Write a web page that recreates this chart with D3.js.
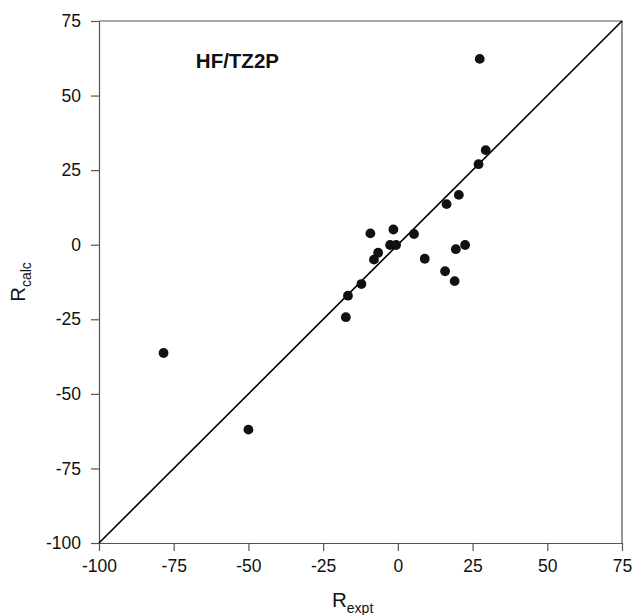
<!DOCTYPE html>
<html lang="en">
  <head>
    <meta charset="utf-8">
    <title>HF/TZ2P R calc vs expt</title>
    <script src="https://cdn.jsdelivr.net/npm/d3@7"></script>
    <style>
      body { margin: 0; background: white; }
      text { font-family: "Liberation Sans", Arial, sans-serif; fill: #111; }
    </style>
  </head>
  <body>
    <script>

        var w = 634;
        var h = 615;
        var margin = { top: 21, right: 12, bottom: 72, left: 99 };

        var rExpt = [27.4, 29.4, 27.0, 20.4, 16.3, -9.2, -1.5, 5.4, -2.6, -0.6, -6.6,
                     -8.0, 9.0, 19.4, 22.5, 15.8, 19.0, -12.2, -16.7, -17.4, -50.0, -78.4];
        var rCalc = [62.3, 31.7, 27.0, 16.7, 13.6, 3.8, 5.1, 3.6, -0.1, -0.1, -2.7,
                     -5.0, -4.7, -1.5, -0.1, -8.9, -12.2, -13.2, -17.1, -24.3, -62.0, -36.3];

        var ticks = [-100, -75, -50, -25, 0, 25, 50, 75];
        var domain = [-100, 75];

        var xScale = d3.scaleLinear()
                       .domain(domain)
                       .range([margin.left, w - margin.right]);

        var yScale = d3.scaleLinear()
                       .domain(domain)
                       .range([h - margin.bottom, margin.top]);

        var mySvg = d3.select("body")
                      .append("svg")
                      .attr("width", w)
                      .attr("height", h);

        // frame (top + right)
        mySvg.append("path")
             .attr("d", "M" + xScale(-100) + "," + yScale(75) + "H" + xScale(75) + "V" + yScale(-100))
             .attr("fill", "none")
             .attr("stroke", "#555")
             .attr("stroke-width", 1.2);

        // plain hyphen for negatives, like the original
        var fmt = function(d) { return String(d); };

        var xAxis = mySvg.append("g")
                         .attr("transform", "translate(0," + yScale(-100) + ")")
                         .call(d3.axisBottom(xScale).tickValues(ticks).tickFormat(fmt)
                                 .tickSize(8).tickPadding(9).tickSizeOuter(0));

        var yAxis = mySvg.append("g")
                         .attr("transform", "translate(" + xScale(-100) + ",0)")
                         .call(d3.axisLeft(yScale).tickValues(ticks).tickFormat(fmt)
                                 .tickSize(8).tickPadding(10).tickSizeOuter(0));

        [xAxis, yAxis].forEach(function(a) {
          a.selectAll("path, line").attr("stroke", "#555").attr("stroke-width", 1.2);
          a.selectAll("text")
           .style("font-family", "'Liberation Sans', Arial, sans-serif")
           .style("font-size", "17.5px")
           .attr("fill", "#111");
        });

        // y = x line
        mySvg.append("line")
             .attr("x1", xScale(domain[0]))
             .attr("y1", yScale(domain[0]))
             .attr("x2", xScale(domain[1]))
             .attr("y2", yScale(domain[1]))
             .attr("stroke", "#000")
             .attr("stroke-width", 1.6);

        // points
        mySvg.selectAll("circle")
             .data(rExpt)
             .enter()
             .append("circle")
             .attr("cx", function(d) { return xScale(d); })
             .attr("cy", function(d, i) { return yScale(rCalc[i]); })
             .attr("r", 4.9)
             .attr("fill", "#111");

        // method label
        mySvg.append("text")
             .attr("x", xScale(-67.6))
             .attr("y", yScale(59.3))
             .style("font-size", "20.5px")
             .style("font-weight", "bold")
             .text("HF/TZ2P");

        // axis titles
        var xt = mySvg.append("text")
                      .attr("x", 332)
                      .attr("y", h - 8)
                      .style("font-size", "20.5px");
        xt.append("tspan").text("R");
        xt.append("tspan").attr("dy", 6).style("font-size", "14px").text("expt");

        var yt = mySvg.append("text")
                      .attr("transform", "translate(25," + ((margin.top + h - margin.bottom) / 2) + ") rotate(-90)")
                      .attr("text-anchor", "middle")
                      .style("font-size", "20.5px");
        yt.append("tspan").text("R");
        yt.append("tspan").attr("dy", 6).style("font-size", "14px").text("calc");

    </script>
  </body>
</html>
